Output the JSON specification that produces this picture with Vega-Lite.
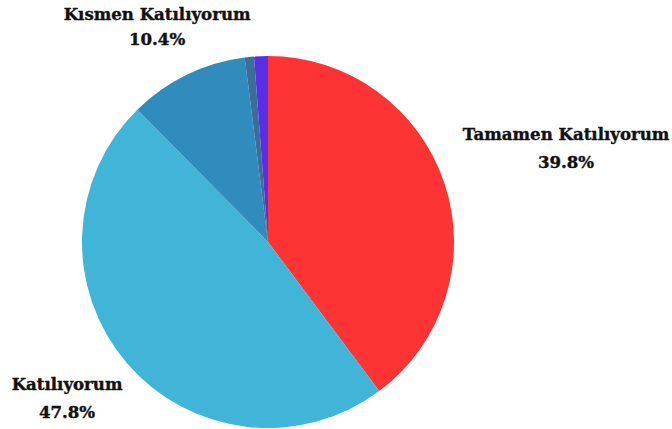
{
  "$schema": "https://vega.github.io/schema/vega-lite/v6.json",
  "width": 372,
  "height": 372,
  "autosize": {"type": "none"},
  "padding": {"left": 82, "top": 56, "right": 218, "bottom": 1},
  "background": "white",
  "config": {
    "text": {"font": "DejaVu Serif", "fontWeight": "bold", "fontSize": 16.6, "color": "#111111", "stroke": "#111111", "strokeWidth": 0.4}
  },
  "data": {
    "values": [
      {"cat": "Tamamen Katılıyorum", "v": 0.398, "i": 1},
      {"cat": "Katılıyorum", "v": 0.478, "i": 2},
      {"cat": "Kısmen Katılıyorum", "v": 0.104, "i": 3},
      {"cat": "Katılmıyorum", "v": 0.008, "i": 4},
      {"cat": "Kesinlikle Katılmıyorum", "v": 0.012, "i": 5}
    ]
  },
  "encoding": {
    "theta": {"field": "v", "type": "quantitative", "stack": true},
    "order": {"field": "i", "type": "quantitative"}
  },
  "layer": [
    {
      "mark": {"type": "arc"},
      "encoding": {
        "color": {
          "field": "cat",
          "type": "nominal",
          "legend": null,
          "scale": {
            "domain": ["Tamamen Katılıyorum", "Katılıyorum", "Kısmen Katılıyorum", "Katılmıyorum", "Kesinlikle Katılmıyorum"],
            "range": ["#fe3333", "#40b5d7", "#2f8cbd", "#3b6d96", "#5a2ee8"]
          }
        }
      }
    },
    {
      "mark": {"type": "text", "dy": -8},
      "encoding": {
        "detail": {"field": "cat"},
        "radius": {"value": 314},
        "text": {"condition": {"test": "datum.cat === 'Tamamen Katılıyorum'", "field": "cat"}, "value": ""}
      }
    },
    {
      "mark": {"type": "text", "dy": 20},
      "encoding": {
        "detail": {"field": "cat"},
        "radius": {"value": 314},
        "text": {"condition": {"test": "datum.cat === 'Tamamen Katılıyorum'", "field": "v", "format": ".1%"}, "value": ""}
      }
    },
    {
      "mark": {"type": "text", "dy": -30},
      "encoding": {
        "detail": {"field": "cat"},
        "radius": {"value": 265},
        "text": {"condition": {"test": "datum.cat === 'Katılıyorum'", "field": "cat"}, "value": ""}
      }
    },
    {
      "mark": {"type": "text", "dy": -2},
      "encoding": {
        "detail": {"field": "cat"},
        "radius": {"value": 265},
        "text": {"condition": {"test": "datum.cat === 'Katılıyorum'", "field": "v", "format": ".1%"}, "value": ""}
      }
    },
    {
      "mark": {"type": "text", "dx": -6, "dy": -11},
      "encoding": {
        "detail": {"field": "cat"},
        "radius": {"value": 240},
        "text": {"condition": {"test": "datum.cat === 'Kısmen Katılıyorum'", "field": "cat"}, "value": ""}
      }
    },
    {
      "mark": {"type": "text", "dx": -6, "dy": 14},
      "encoding": {
        "detail": {"field": "cat"},
        "radius": {"value": 240},
        "text": {"condition": {"test": "datum.cat === 'Kısmen Katılıyorum'", "field": "v", "format": ".1%"}, "value": ""}
      }
    }
  ]
}
